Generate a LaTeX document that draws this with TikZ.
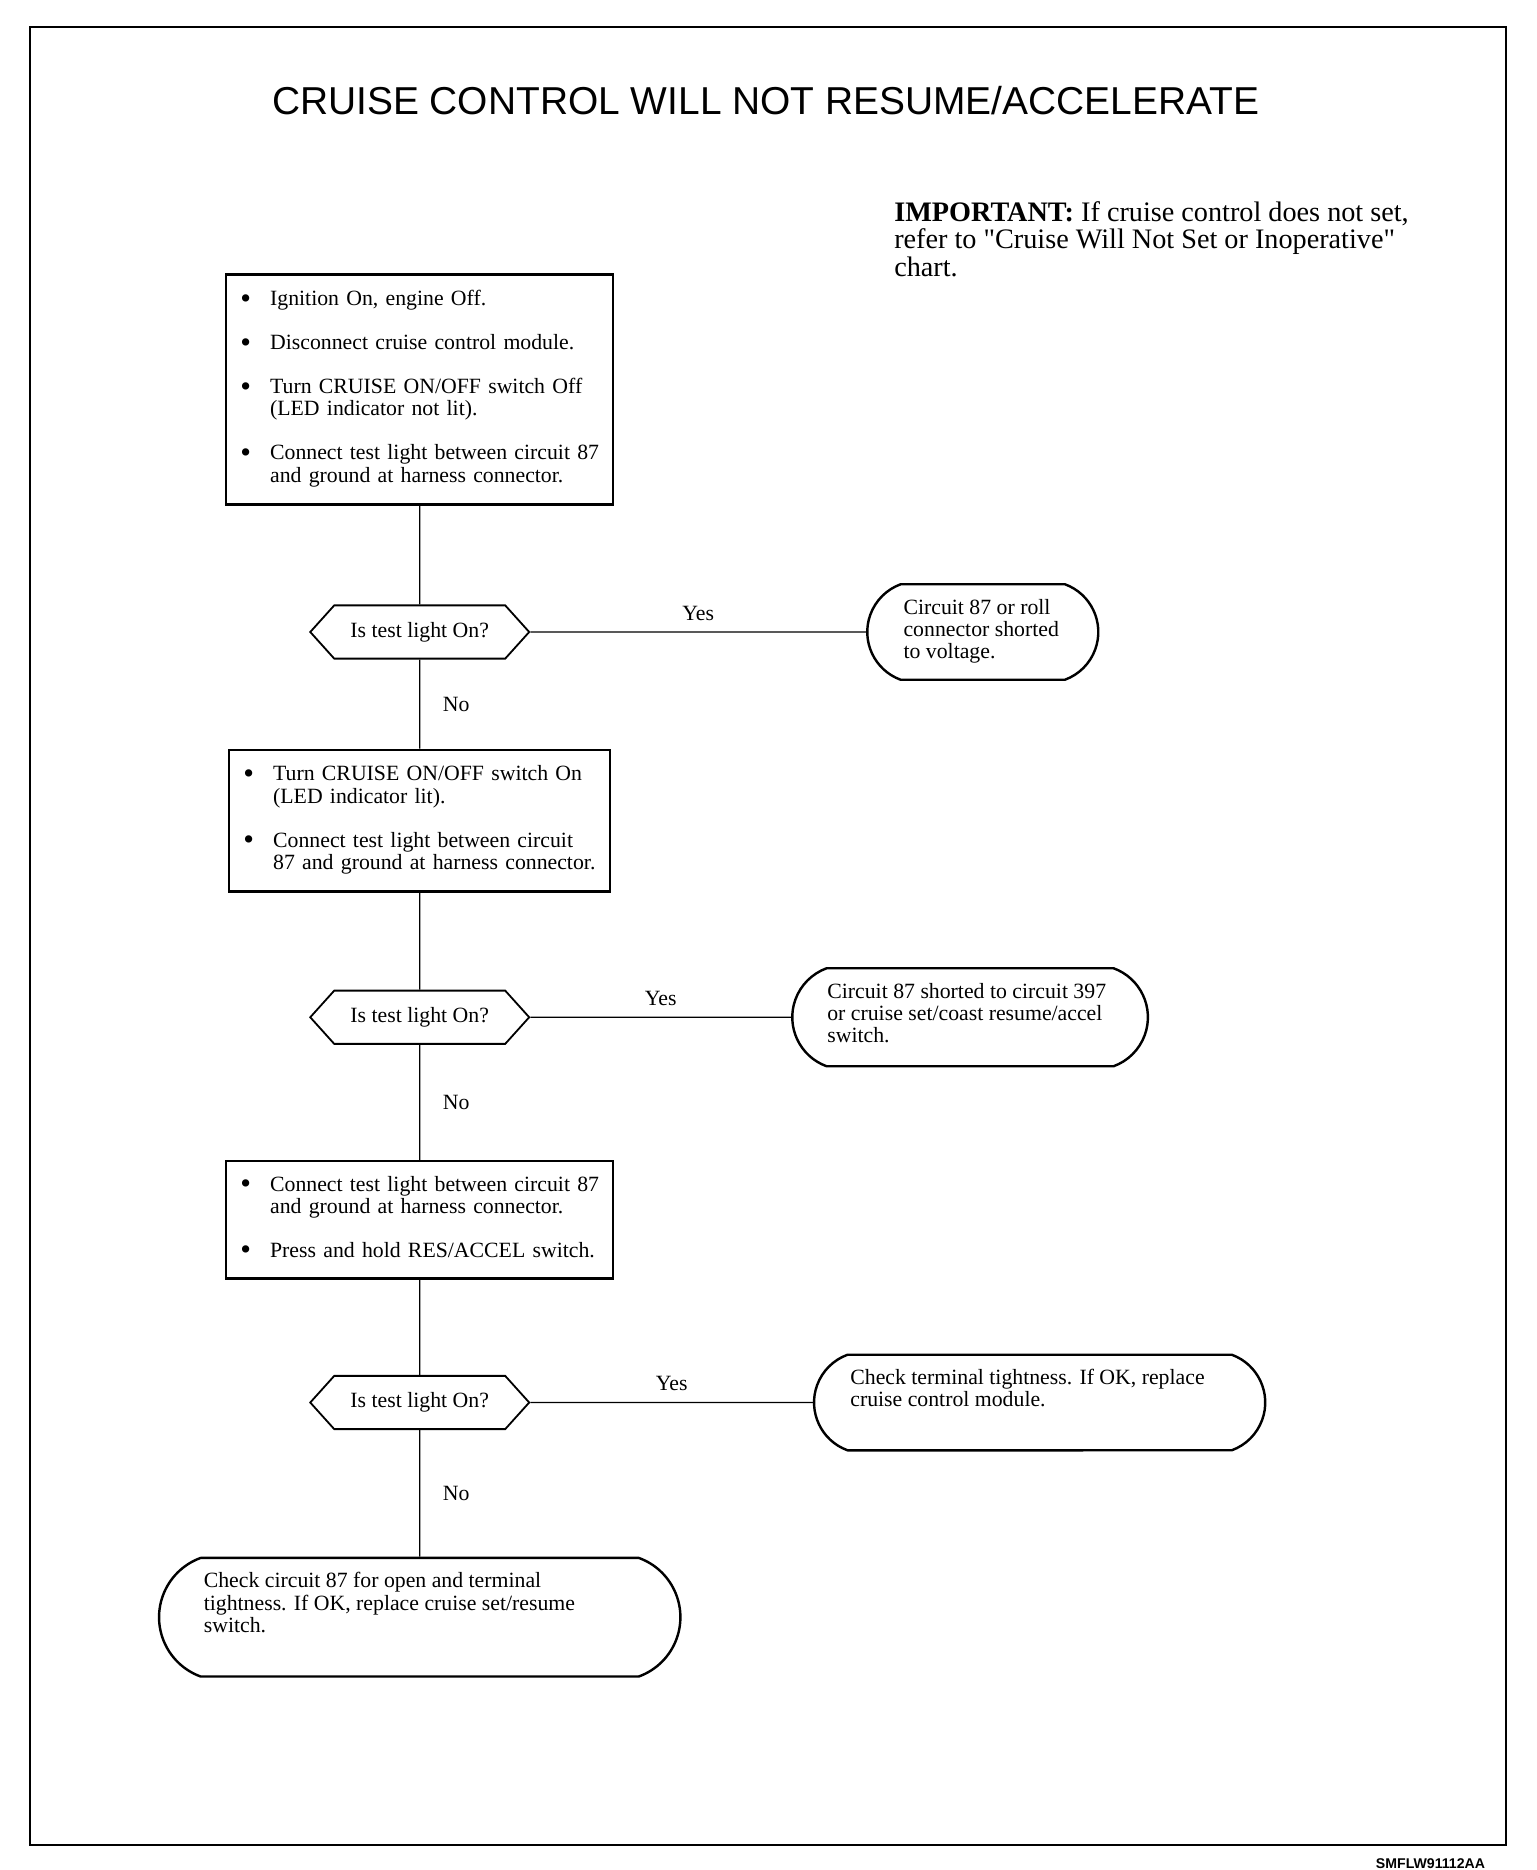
\documentclass[tikz,border=0pt]{standalone}
\usepackage{fontspec}
\setmainfont{Liberation Serif}
\newfontfamily\headfont{Liberation Sans}
\usetikzlibrary{shapes.misc,shapes.symbols}
\newcommand{\boxfont}{\fontsize{10.8}{11}\selectfont}
\newcommand{\dotmark}{\raisebox{-1.3pt}{\scalebox{1.4}{\textbullet}}}
\newcommand{\termtext}[3]{\parbox[c][#2][t]{#1}{\begin{tabular}{@{}l@{}}#3\end{tabular}}}
\tikzset{
    step box/.style={draw, line width=1.2pt, rectangle, align=left, inner xsep=7pt, inner ysep=0pt, font=\boxfont},
    test box/.style={draw, line width=0.9pt, signal, signal to=west and east, signal pointer angle=96,
        minimum width=108.6pt, minimum height=26.4pt, inner sep=1pt, font=\boxfont},
    end box/.style={draw, line width=1.2pt, line join=round, rounded rectangle, rounded rectangle arc length=140, inner sep=0pt, font=\boxfont},
    link/.style={line width=0.7pt},
    answer/.style={font=\boxfont},
}

\begin{document}
\begin{tikzpicture}[x=0.6pt, y=-0.6pt]
    \useasboundingbox (0,0) rectangle (1270,1546);
    \draw[line width=1pt] (25,22) rectangle (1245,1525);
    \node[font={\headfont\fontsize{19.3}{22}\selectfont}] (title) at (633,83) {CRUISE CONTROL WILL NOT RESUME/ACCELERATE};
    \node[anchor=north west, align=left, inner sep=0pt, font={\fontsize{14}{13.8}\selectfont}] (note) at (739,166)
        {\textbf{IMPORTANT:} If cruise control does not set,\\refer to \textquotedbl Cruise Will Not Set or Inoperative\textquotedbl\\chart.};

    \node[step box, text width=178pt, minimum height=114pt] (step1) at (347,322) {%
        \begin{tabular}{@{}l@{\hspace{9.5pt}}l@{}}
        \dotmark & Ignition On, engine Off.\\[10.8pt]
        \dotmark & Disconnect cruise control module.\\[10.8pt]
        \dotmark & Turn CRUISE ON/OFF switch Off\\
                 & (LED indicator not lit).\\[10.8pt]
        \dotmark & Connect test light between circuit 87\\
                 & and ground at harness connector.
        \end{tabular}};
    \node[test box] (test1) at (347,522.5) {Is test light On?};
    \node[end box, minimum width=114.6pt, minimum height=47.4pt] (end1) at (812.5,522.5)
        {\termtext{78.6pt}{33pt}{Circuit 87 or roll\\connector shorted\\to voltage.}};

    \node[step box, text width=175pt, minimum height=70.2pt] (step2) at (347,678.5) {%
        \begin{tabular}{@{}l@{\hspace{9.5pt}}l@{}}
        \dotmark & Turn CRUISE ON/OFF switch On\\
                 & (LED indicator lit).\\[10.8pt]
        \dotmark & Connect test light between circuit\\
                 & 87 and ground at harness connector.
        \end{tabular}};
    \node[test box] (test2) at (347,841) {Is test light On?};
    \node[end box, minimum width=176.4pt, minimum height=48.6pt] (end2) at (802,841)
        {\termtext{141.6pt}{34.2pt}{Circuit 87 shorted to circuit 397\\or cruise set/coast resume/accel\\switch.}};

    \node[step box, text width=178pt, minimum height=58.2pt] (step3) at (347,1008.5) {%
        \begin{tabular}{@{}l@{\hspace{9.5pt}}l@{}}
        \dotmark & Connect test light between circuit 87\\
                 & and ground at harness connector.\\[10.8pt]
        \dotmark & Press and hold RES/ACCEL switch.
        \end{tabular}};
    \node[test box] (test3) at (347,1159.5) {Is test light On?};
    \node[end box, minimum width=223.8pt, minimum height=47.4pt] (end3) at (859.5,1159.5)
        {\termtext{187.8pt}{33pt}{Check terminal tightness. If OK, replace\\cruise control module.}};
    \node[end box, minimum width=258.6pt, minimum height=58.8pt] (end4) at (347,1337)
        {\termtext{214.2pt}{44.4pt}{Check circuit 87 for open and terminal\\tightness. If OK, replace cruise set/resume\\switch.}};

    \draw[link] (step1) -- (test1);
    \draw[link] (test1) -- node[answer, above=2pt] {Yes} (end1);
    \draw[link] (test1) -- node[answer, right=7.8pt] {No} (step2);
    \draw[link] (step2) -- (test2);
    \draw[link] (test2) -- node[answer, above=2pt] {Yes} (end2);
    \draw[link] (test2) -- node[answer, right=7.8pt] {No} (step3);
    \draw[link] (step3) -- (test3);
    \draw[link] (test3) -- node[answer, above=2pt] {Yes} (end3);
    \draw[link] (test3) -- node[answer, right=7.8pt] {No} (end4);

    \node[anchor=east, inner sep=0pt, font={\headfont\bfseries\fontsize{7}{8}\selectfont}] (code) at (1228,1541) {SMFLW91112AA};
\end{tikzpicture}
\end{document}
